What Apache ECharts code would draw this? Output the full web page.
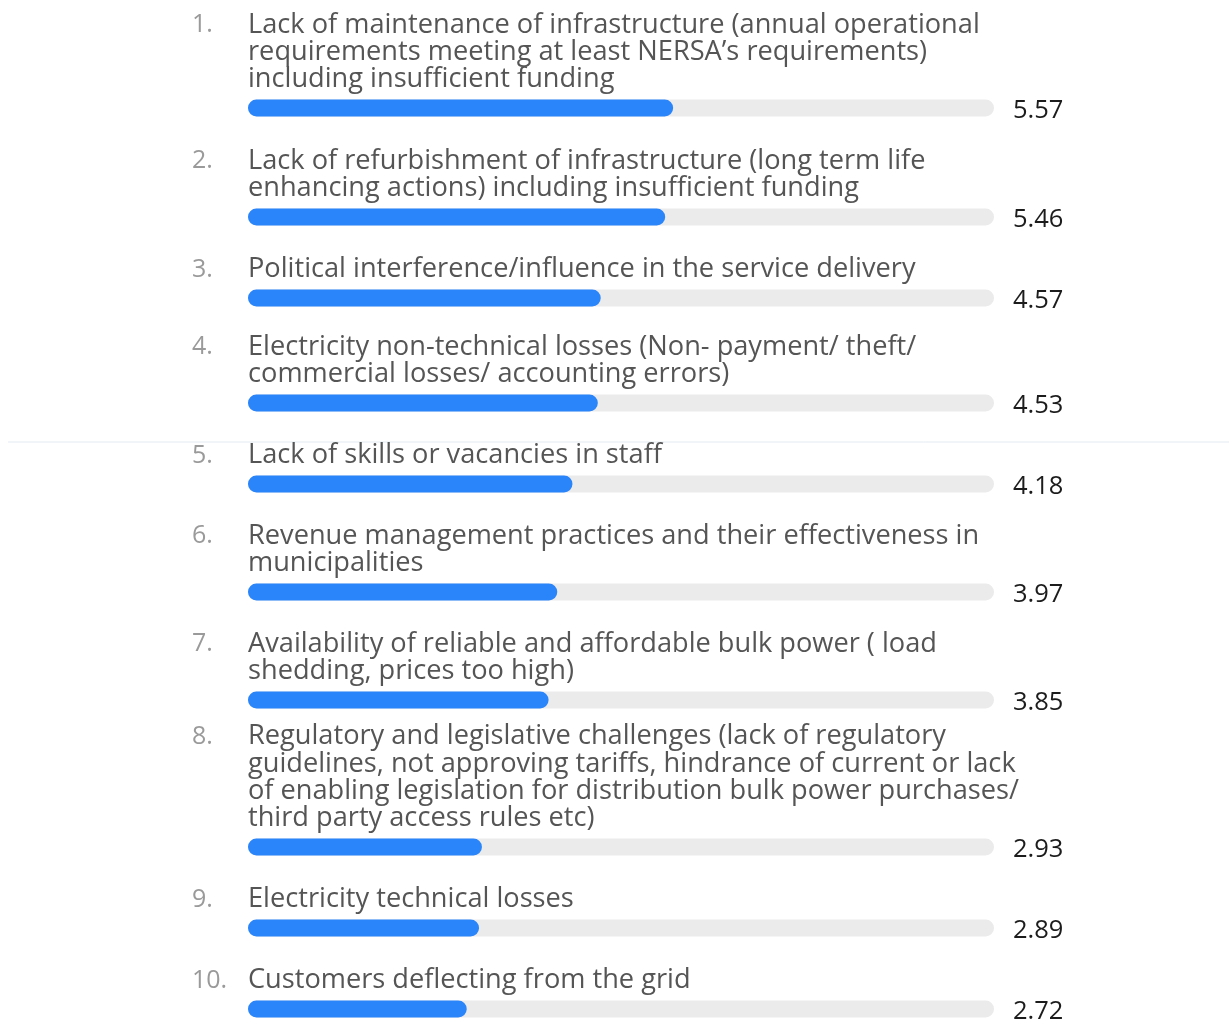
<!DOCTYPE html>
<html>
<head>
<meta charset="utf-8">
<script src="https://cdn.jsdelivr.net/npm/echarts@6/dist/echarts.min.js"></script>
<style>
  html, body { margin: 0; background: #fff; }
  #chart { width: 1229px; height: 1022px; }
</style>
</head>
<body>
<div id="chart"></div>
<script>
const labels = [
  "Lack of maintenance of infrastructure (annual operational\nrequirements meeting at least NERSA\u2019s requirements)\nincluding insufficient funding",
  "Lack of refurbishment of infrastructure (long term life\nenhancing actions) including insufficient funding",
  "Political interference/influence in the service delivery",
  "Electricity non-technical losses (Non- payment/ theft/\ncommercial losses/ accounting errors)",
  "Lack of skills or vacancies in staff",
  "Revenue management practices and their effectiveness in\nmunicipalities",
  "Availability of reliable and affordable bulk power ( load\nshedding, prices too high)",
  "Regulatory and legislative challenges (lack of regulatory\nguidelines, not approving tariffs, hindrance of current or lack\nof enabling legislation for distribution bulk power purchases/\nthird party access rules etc)",
  "Electricity technical losses",
  "Customers deflecting from the grid"
];
const scores = [5.57, 5.46, 4.57, 4.53, 4.18, 3.97, 3.85, 2.93, 2.89, 2.72];

// scale: the track spans slightly below zero up to 10
const scaleMin = -0.3;
const scaleMax = 10;

// layout: vertical centre of each bar row
const barCentres = [108, 217, 298, 403, 484, 592, 700, 847, 928, 1009];

const FONT = '"Open Sans", "Noto Sans", sans-serif';
const LINE_H = 27.3;
const BAR_H = 17;

function renderRow(params, api) {
  const i = params.seriesIndex;
  const v = api.value(0);
  const start = api.coord([scaleMin, 0]);
  const full = api.coord([scaleMax, 0]);
  const end = api.coord([v, 0]);
  const cy = start[1];
  const nLines = labels[i].split("\n").length;
  const firstLine = cy - 28.5 - (nLines - 1) * LINE_H;
  return {
    type: "group",
    children: [
      {
        type: "rect",
        shape: { x: start[0], y: cy - BAR_H / 2, width: full[0] - start[0], height: BAR_H, r: BAR_H / 2 },
        style: { fill: "#ebebeb" }
      },
      {
        type: "rect",
        shape: { x: start[0], y: cy - BAR_H / 2, width: end[0] - start[0], height: BAR_H, r: BAR_H / 2 },
        style: { fill: "#2a84fa" }
      },
      {
        type: "text",
        x: full[0] + 19,
        y: cy + 3,
        style: { text: v.toFixed(2), font: "25.5px " + FONT, fill: "#1c1c1c", verticalAlign: "middle" }
      },
      {
        type: "text",
        x: start[0],
        y: firstLine - LINE_H / 2,
        style: { text: labels[i], font: "27.2px " + FONT, fill: "#555555", lineHeight: LINE_H, verticalAlign: "top" }
      },
      {
        type: "text",
        x: start[0] - 56,
        y: firstLine,
        style: { text: (i + 1) + ".", font: "25px " + FONT, fill: "#9a9a9a", verticalAlign: "middle" }
      }
    ]
  };
}

const grids = [], xAxes = [], yAxes = [], series = [];
scores.forEach((s, i) => {
  grids.push({ left: 248, width: 746, top: barCentres[i] - BAR_H / 2, height: BAR_H });
  xAxes.push({ gridIndex: i, type: "value", min: scaleMin, max: scaleMax, show: false });
  yAxes.push({ gridIndex: i, type: "category", data: [String(i + 1)], show: false });
  series.push({
    type: "custom",
    xAxisIndex: i,
    yAxisIndex: i,
    clip: false,
    silent: true,
    data: [[s, 0]],
    renderItem: renderRow
  });
});

const chart = echarts.init(document.getElementById("chart"));
chart.setOption({
  animation: false,
  grid: grids,
  xAxis: xAxes,
  yAxis: yAxes,
  series: series,
  graphic: [
    {
      type: "line",
      shape: { x1: 8, y1: 442, x2: 1229, y2: 442 },
      style: { stroke: "#e4eaf1", lineWidth: 1 }
    }
  ]
});
</script>
</body>
</html>
